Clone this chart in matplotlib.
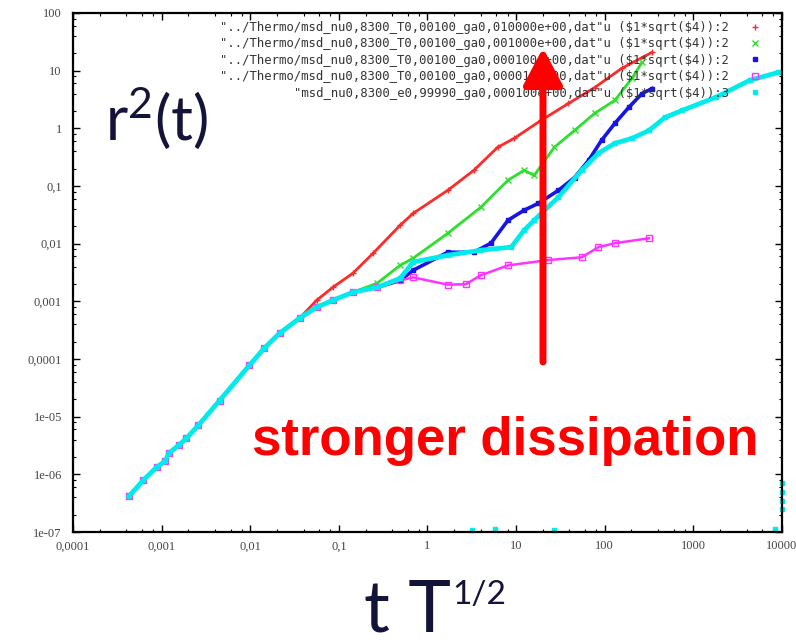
import matplotlib
matplotlib.use("Agg")
import matplotlib.pyplot as plt
from matplotlib.lines import Line2D
from matplotlib.patches import FancyArrowPatch
from matplotlib.ticker import FixedLocator, FixedFormatter, LogLocator, NullFormatter

plt.rcParams['mathtext.fontset'] = 'custom'
plt.rcParams['mathtext.rm'] = 'Lato'
plt.rcParams['mathtext.default'] = 'regular'

# early part, shared by all five runs
early_t = [4.3e-4, 6.2e-4, 8.8e-4, 1.1e-3, 1.2e-3, 1.56e-3, 1.9e-3, 2.6e-3,
           4.5e-3, 9.8e-3, 0.0144, 0.0214, 0.036]
early_r2 = [4.2e-7, 7.9e-7, 1.33e-6, 1.7e-6, 2.3e-6, 3.2e-6, 4.2e-6, 7.1e-6,
            1.9e-5, 7.8e-5, 1.54e-4, 2.8e-4, 5.1e-4]

red_t = [0.056, 0.0855, 0.144, 0.243, 0.49, 0.69, 1.69, 3.33, 6.2, 9.5, 19.2,
         39, 77, 156, 342]
red_r2 = [1.04e-3, 1.75e-3, 3.07e-3, 6.8e-3, 0.0208, 0.0336, 0.084, 0.187, 0.47,
          0.67, 1.38, 2.7, 5.1, 11, 20.8]

green_t = [0.056, 0.0855, 0.144, 0.27, 0.49, 0.69, 1.69, 4.0, 8.1, 12.3, 16,
           27, 45.6, 77, 130, 203, 263]
green_r2 = [7.9e-4, 1.04e-3, 1.44e-3, 2.06e-3, 4.2e-3, 5.6e-3, 0.0151, 0.0428,
            0.126, 0.187, 0.153, 0.47, 0.92, 1.82, 3.06, 7.4, 13.9]

blue_t = [0.056, 0.0855, 0.144, 0.27, 0.49, 0.69, 1.69, 3.33, 5.2, 8.1, 12.3,
          17.8, 30, 45.6, 66, 92, 130, 187, 263, 342]
blue_r2 = [7.9e-4, 1.04e-3, 1.44e-3, 1.75e-3, 2.3e-3, 3.46e-3, 7.1e-3, 7.1e-3,
           0.0102, 0.0255, 0.038, 0.05, 0.084, 0.14, 0.28, 0.62, 1.22, 2.31,
           4.0, 4.9]

magenta_t = [0.056, 0.0855, 0.144, 0.27, 0.49, 0.69, 1.69, 2.7, 4.0, 8.1, 23,
             55, 85, 130, 316]
magenta_r2 = [7.9e-4, 1.04e-3, 1.44e-3, 1.75e-3, 2.3e-3, 2.6e-3, 1.95e-3,
              1.98e-3, 2.83e-3, 4.2e-3, 5.2e-3, 5.8e-3, 8.7e-3, 0.0102, 0.0124]

cyan_t = [0.056, 0.0855, 0.144, 0.27, 0.49, 0.69, 1.69, 4.0, 8.8, 12.3, 16, 30,
          55, 85, 130, 203, 316, 481, 750, 1780, 4330, 9000]
cyan_r2 = [7.9e-4, 1.04e-3, 1.44e-3, 1.75e-3, 2.5e-3, 4.8e-3, 6.3e-3, 7.7e-3,
           8.7e-3, 0.017, 0.0255, 0.064, 0.187, 0.37, 0.55, 0.67, 0.92, 1.55,
           2.05, 3.44, 6.8, 9.3]

# stray cyan points near the bottom / right edge
stray_t = [3.2, 5.8, 27, 8300, 10000, 10000, 10000, 10000]
stray_r2 = [1.1e-7, 1.12e-7, 1.1e-7, 1.15e-7, 2.5e-7, 3.5e-7, 5e-7, 7e-7]

labels = [
    '"../Thermo/msd_nu0,8300_T0,00100_ga0,010000e+00,dat"u (\\$1*sqrt(\\$4)):2',
    '"../Thermo/msd_nu0,8300_T0,00100_ga0,001000e+00,dat"u (\\$1*sqrt(\\$4)):2',
    '"../Thermo/msd_nu0,8300_T0,00100_ga0,000100e+00,dat"u (\\$1*sqrt(\\$4)):2',
    '"../Thermo/msd_nu0,8300_T0,00100_ga0,000010e+00,dat"u (\\$1*sqrt(\\$4)):2',
    '"msd_nu0,8300_e0,99990_ga0,000100e+00,dat"u (\\$1*sqrt(\\$4)):3',
]

xticks = [1e-4, 1e-3, 1e-2, 1e-1, 1, 10, 100, 1000, 10000]
xticklabels = ['0,0001', '0,001', '0,01', '0,1', '1', '10', '100', '1000', '10000']
yticks = [1e-7, 1e-6, 1e-5, 1e-4, 1e-3, 1e-2, 1e-1, 1, 10, 100]
yticklabels = ['1e-07', '1e-06', '1e-05', '0,0001', '0,001', '0,01', '0,1',
               '1', '10', '100']

fig = plt.figure(figsize=(7.96, 6.43), dpi=100)
ax = fig.add_axes([0.0917, 0.1726, 0.8907, 0.8072])

series = [
    (red_t, red_r2, '#ff2a2a', '+', 5, 'none', 2.0),
    (green_t, green_r2, '#2ee02e', 'x', 4, 'none', 2.0),
    (blue_t, blue_r2, '#1515e6', 's', 3.5, '#1515e6', 2.6),
    (magenta_t, magenta_r2, '#ff33ff', 's', 5, 'none', 1.8),
    (cyan_t, cyan_r2, '#00ecec', 's', 3.5, '#00ecec', 3.4),
]
handles = []
for t, r2, c, m, ms, mfc, lw in series:
    ax.plot(early_t + t, early_r2 + r2, color=c, lw=lw, marker=m, ms=ms,
            mfc=mfc, mec=c, mew=1)
    handles.append(Line2D([], [], ls='none', color=c, marker=m, ms=ms,
                          mfc=mfc, mec=c, mew=1))
ax.plot(stray_t, stray_r2, ls='none', marker='s', ms=3, color='#00ecec',
        clip_on=False)

ax.set_xscale('log')
ax.set_yscale('log')
ax.set_xlim(1e-4, 1e4)
ax.set_ylim(1e-7, 100)

ax.xaxis.set_major_locator(FixedLocator(xticks))
ax.xaxis.set_major_formatter(FixedFormatter(xticklabels))
ax.yaxis.set_major_locator(FixedLocator(yticks))
ax.yaxis.set_major_formatter(FixedFormatter(yticklabels))
ax.xaxis.set_minor_locator(LogLocator(base=10, subs=(2, 4, 6, 8), numticks=20))
ax.yaxis.set_minor_locator(LogLocator(base=10, subs=(2, 4, 6, 8), numticks=20))
ax.xaxis.set_minor_formatter(NullFormatter())
ax.yaxis.set_minor_formatter(NullFormatter())
ax.tick_params(which='both', direction='in', top=True, right=True,
               colors='black', labelcolor='#444444')
ax.tick_params(which='major', length=5, width=1)
ax.tick_params(which='minor', length=2.5, width=0.8)
ax.tick_params(axis='y', pad=8)
ax.tick_params(axis='x', pad=6)
for lab in ax.get_xticklabels() + ax.get_yticklabels():
    lab.set_fontfamily('Liberation Serif')
    lab.set_fontsize(9)
for sp in ax.spines.values():
    sp.set_linewidth(1.6)

leg = ax.legend(handles, labels, loc='upper right',
                bbox_to_anchor=(766 / 796, 1 - 16 / 643),
                bbox_transform=fig.transFigure, borderaxespad=0,
                frameon=False, markerfirst=False, handlelength=1.0,
                handletextpad=1.6, labelspacing=0.28,
                prop={'family': 'DejaVu Sans Mono', 'size': 8.8})
for txt in leg.get_texts():
    txt.set_color('#333333')

# big annotations
fig.text(105 / 796, 1 - 140 / 643, r'r$^{2}$(t)', fontfamily='Lato',
         fontsize=44, color='#14143a', ha='left', va='baseline')
fig.text(364 / 796, 1 - 632 / 643, 't T', fontfamily='Lato',
         fontsize=52, color='#14143a', ha='left', va='baseline')
fig.text(452 / 796, 1 - 604 / 643, '1/2', fontfamily='Lato',
         fontsize=24, color='#14143a', ha='left', va='baseline')
fig.text(252 / 796, 1 - 455 / 643, 'stronger dissipation',
         fontfamily='Liberation Sans', fontweight='bold', fontsize=38,
         color='#ff0000', ha='left', va='baseline')

arrow = FancyArrowPatch((543 / 796, 1 - 362 / 643), (543 / 796, 1 - 48 / 643),
                        transform=fig.transFigure,
                        arrowstyle='-|>,head_length=0.45,head_width=0.24',
                        mutation_scale=50, lw=5, color='#ff0000',
                        shrinkA=0, shrinkB=0)
fig.add_artist(arrow)

fig.savefig('out.png', dpi=100)
